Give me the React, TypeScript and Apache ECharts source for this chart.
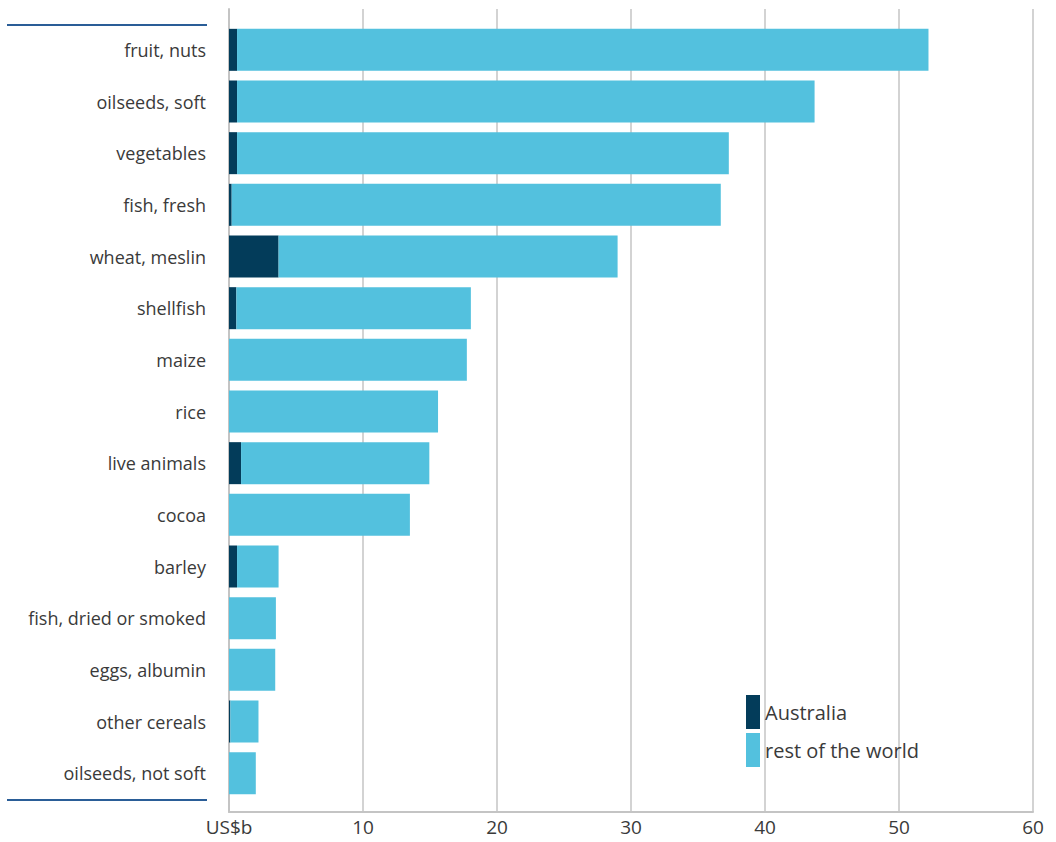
import React, { useEffect, useRef } from "react";
import * as echarts from "echarts";

const categories = [
  "fruit, nuts",
  "oilseeds, soft",
  "vegetables",
  "fish, fresh",
  "wheat, meslin",
  "shellfish",
  "maize",
  "rice",
  "live animals",
  "cocoa",
  "barley",
  "fish, dried or smoked",
  "eggs, albumin",
  "other cereals",
  "oilseeds, not soft",
];
const australia = [0.6, 0.6, 0.6, 0.2, 3.7, 0.55, 0, 0, 0.9, 0, 0.6, 0, 0, 0.1, 0];
const restOfWorld = [51.6, 43.1, 36.7, 36.5, 25.3, 17.5, 17.75, 15.6, 14.05, 13.5, 3.1, 3.5, 3.45, 2.1, 2.0];
const xTicks = [0, 10, 20, 30, 40, 50, 60];

const FONT = "'Open Sans', 'Noto Sans', sans-serif";
const DARK = "#033c5a";
const LIGHT = "#53c1de";
const TEXT = "#3a3a3a";

export default function App() {
  const ref = useRef<HTMLDivElement>(null);
  useEffect(() => {
    if (!ref.current) return;
    const chart = echarts.init(ref.current, undefined, { renderer: "svg" });
    chart.setOption({
      animation: false,
      backgroundColor: "#ffffff",
      textStyle: { fontFamily: FONT },
      legend: {
        orient: "vertical",
        left: 741,
        top: 690,
        itemWidth: 14,
        itemHeight: 34,
        itemGap: 4,
        icon: "rect",
        textStyle: { fontSize: 20, color: TEXT, fontFamily: FONT },
        data: ["Australia", "rest of the world"],
      },
      grid: [
        { left: 229, right: 23, top: 24, bottom: 43, containLabel: false },
        { left: 229, right: 23, top: 9, bottom: 30, containLabel: false },
      ],
      xAxis: [
        { type: "value", gridIndex: 0, min: 0, max: 60, interval: 10, show: false },
        {
          type: "value",
          gridIndex: 1,
          min: xTicks[0],
          max: xTicks[xTicks.length - 1],
          interval: 10,
          axisLine: { show: true, lineStyle: { color: "#c4c4c4", width: 2 } },
          axisTick: { show: false },
          splitLine: { show: true, lineStyle: { color: "#c4c4c4", width: 1.5 } },
          axisLabel: {
            fontSize: 19,
            lineHeight: 19,
            color: TEXT,
            fontFamily: FONT,
            margin: 5,
            formatter: (v: number) => (v === 0 ? "US$b" : String(v)),
          },
        },
      ],
      yAxis: [
        {
          type: "category",
          gridIndex: 0,
          inverse: true,
          data: categories,
          axisLine: { show: false },
          axisTick: { show: false },
          axisLabel: { fontSize: 18, color: TEXT, fontFamily: FONT, margin: 23 },
        },
        {
          type: "value",
          gridIndex: 1,
          min: 0,
          max: 1,
          axisLine: { show: true, lineStyle: { color: "#c4c4c4", width: 2 } },
          axisLabel: { show: false },
          axisTick: { show: false },
          splitLine: { show: false },
        },
      ],
      series: [
        {
          name: "Australia",
          type: "bar",
          stack: "total",
          xAxisIndex: 0,
          yAxisIndex: 0,
          data: australia,
          itemStyle: { color: DARK },
          barWidth: 42,
        },
        {
          name: "rest of the world",
          type: "bar",
          stack: "total",
          xAxisIndex: 0,
          yAxisIndex: 0,
          data: restOfWorld,
          itemStyle: { color: LIGHT },
          barWidth: 42,
        },
      ],
      graphic: [
        { type: "line", shape: { x1: 7, y1: 25, x2: 207, y2: 25 }, style: { stroke: "#2a5d97", lineWidth: 2 } },
        { type: "line", shape: { x1: 7, y1: 800, x2: 207, y2: 800 }, style: { stroke: "#2a5d97", lineWidth: 2 } },
      ],
    });
    return () => chart.dispose();
  }, []);
  return (
    <div
      ref={ref}
      style={{ position: "absolute", left: 0, top: 0, width: 1056, height: 842 }}
    />
  );
}
